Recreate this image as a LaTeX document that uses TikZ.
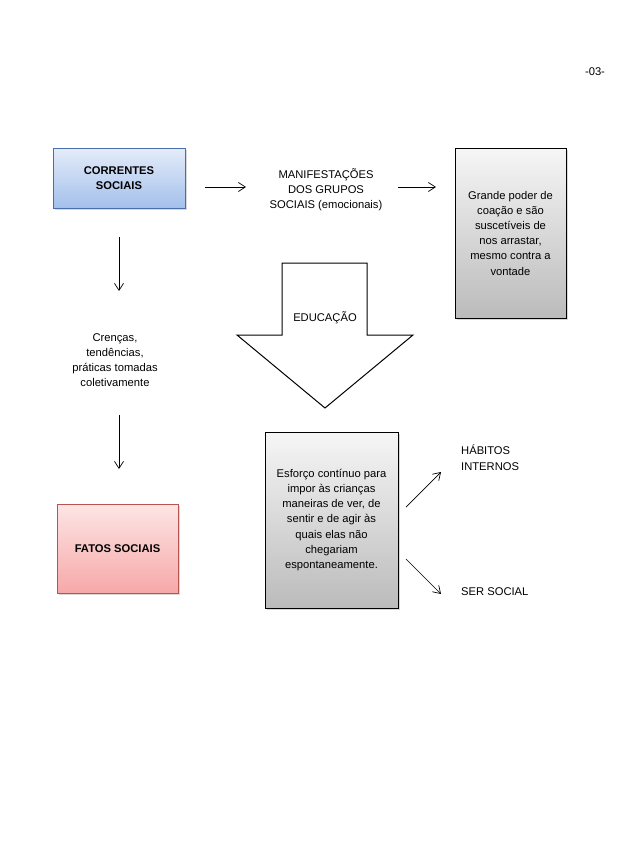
\documentclass[tikz,border=0pt]{standalone}
\usepackage{fontspec}
\setmainfont{Liberation Sans}
\usetikzlibrary{arrows.meta,shadows}
\definecolor{bluetop}{HTML}{E4ECF9}
\definecolor{bluebot}{HTML}{A4C0EB}
\definecolor{blueedge}{HTML}{4A6EA8}
\definecolor{pinktop}{HTML}{FDE5E5}
\definecolor{pinkbot}{HTML}{F7A8A8}
\definecolor{pinkedge}{HTML}{B85450}
\definecolor{greytop}{HTML}{F6F6F6}
\definecolor{greybot}{HTML}{BBBBBB}
\tikzset{
  txt/.style={font=\fontsize{11.2}{15.2}\selectfont, align=center, inner sep=0pt},
  boxbase/.style={rectangle, inner sep=0pt, align=center, font=\fontsize{11.2}{15.2}\selectfont,
     drop shadow={shadow xshift=2pt, shadow yshift=-2pt, opacity=0.3}},
  bluebox/.style={boxbase, draw=blueedge, line width=0.8pt, top color=bluetop, bottom color=bluebot},
  pinkbox/.style={boxbase, draw=pinkedge, line width=0.8pt, top color=pinktop, bottom color=pinkbot},
  greybox/.style={boxbase, draw=black, line width=0.8pt, top color=greytop, bottom color=greybot},
  conn/.style={-{Straight Barb[length=7pt,width=9pt]}, line width=0.7pt}
}
\begin{document}
\begin{tikzpicture}[x=1pt,y=-1pt]
\useasboundingbox (0,0) rectangle (638,851);
\fill[white] (0,0) rectangle (638,851);

\node[txt] (pg) at (595,72) {-03-};

\node[bluebox, minimum width=132pt, minimum height=60pt] (cor) at (119,178)
  {\bfseries CORRENTES\\\bfseries SOCIAIS};

\coordinate (a1s) at (205,187);
\coordinate (a1e) at (246,187);
\draw[conn] (a1s) -- (a1e);

\node[txt] (man) at (326,190) {MANIFESTAÇÕES\\DOS GRUPOS\\SOCIAIS (emocionais)};

\coordinate (a2s) at (398,187);
\coordinate (a2e) at (436,187);
\draw[conn] (a2s) -- (a2e);

\node[greybox, minimum width=111pt, minimum height=170pt] (gp) at (510.5,233)
  {Grande poder de\\coação e são\\suscetíveis de\\nos arrastar,\\mesmo contra a\\vontade};

\coordinate (d1s) at (119,237);
\coordinate (d1e) at (119,291);
\draw[conn] (d1s) -- (d1e);

\node[txt] (cre) at (115,360) {Crenças,\\tendências,\\práticas tomadas\\coletivamente};

\coordinate (d2s) at (119,415);
\coordinate (d2e) at (119,469);
\draw[conn] (d2s) -- (d2e);

\node[pinkbox, minimum width=121pt, minimum height=89pt] (fat) at (117.5,548.5)
  {\bfseries FATOS SOCIAIS};

% EDUCAÇÃO block arrow
\draw[line width=1pt, fill=white, line join=miter]
  (282,263) -- (367,263) -- (367,335) -- (413,335) -- (325,408) -- (237,335) -- (282,335) -- cycle;
\node[txt] (edu) at (325,318) {EDUCAÇÃO};

\node[greybox, minimum width=133pt, minimum height=176pt] (esf) at (331.5,520)
  {Esforço contínuo para\\impor às crianças\\maneiras de ver, de\\sentir e de agir às\\quais elas não\\chegariam\\espontaneamente.};

\coordinate (h1s) at (406,507);
\coordinate (h1e) at (441,472);
\draw[conn] (h1s) -- (h1e);
\coordinate (h2s) at (406,559);
\coordinate (h2e) at (441,594);
\draw[conn] (h2s) -- (h2e);

\node[txt, anchor=north west, align=left] (hab) at (461,445) {HÁBITOS\\INTERNOS};
\node[txt, anchor=west] (ser) at (461,592) {SER SOCIAL};
\end{tikzpicture}
\end{document}
